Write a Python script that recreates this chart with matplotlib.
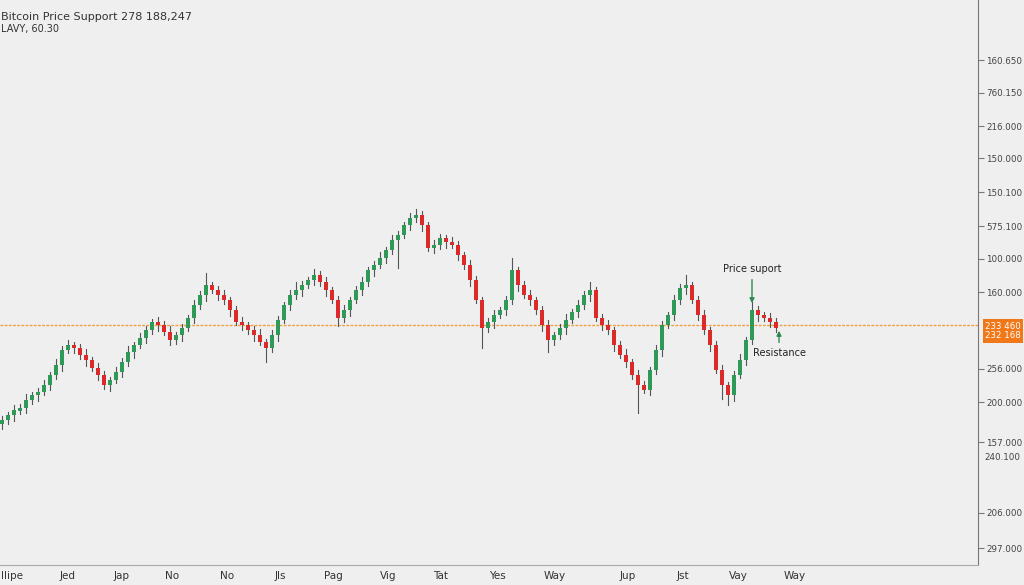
import matplotlib
matplotlib.use("Agg")
import matplotlib.pyplot as plt

# closes in screen-level units (bigger = lower on the chart)
closes = [420,415,410,408,400,395,392,385,375,365,
          350,345,348,355,360,368,375,385,380,372,
          362,352,345,338,330,322,325,332,340,335,
          328,318,305,295,285,290,295,300,310,322,
          325,330,335,342,348,335,320,305,295,290,
          285,280,275,282,290,300,318,310,300,290,
          282,270,265,258,250,240,235,225,218,215,
          225,248,245,238,242,245,255,265,280,300,
          328,322,315,310,300,270,285,295,300,310,
          325,340,335,328,320,312,305,295,290,318,
          325,330,345,355,362,375,385,390,370,350,
          325,315,300,288,285,300,315,330,345,370,
          385,395,375,360,340,310,315,318,322,328]
wick_up = [4,3,5,4,6,3,4,5,3,6, 4,5,3,4,6,3,5,4,3,5,
           4,6,3,5,4,3,5,4,6,3, 4,3,5,4,12,3,4,5,3,4,
           5,3,4,6,3,5,4,3,5,8, 4,3,6,4,5,3,4,5,3,4,
           5,3,4,6,3,5,4,3,5,6, 4,3,5,4,3,5,4,3,5,4,
           3,4,5,3,4,12,3,4,5,3, 4,5,3,4,6,3,5,4,8,3,
           4,5,3,4,6,3,5,4,3,5, 4,3,5,4,10,3,4,5,3,4,
           5,3,4,6,3,8,4,3,5,4]
wick_dn = [5,4,6,3,5,4,6,3,5,4, 6,3,5,4,6,3,5,4,6,3,
           5,4,6,3,5,4,6,3,5,4, 6,3,5,4,6,3,5,4,6,3,
           5,4,6,3,14,4,6,3,5,4, 6,3,5,4,6,3,8,4,6,3,
           5,4,6,3,5,4,28,3,5,4, 6,3,5,4,6,3,5,4,6,3,
           20,4,6,3,5,4,6,3,5,4, 6,12,5,4,6,3,5,4,6,3,
           5,4,6,3,5,4,28,3,5,4, 6,3,5,4,6,3,5,4,6,3,
           14,10,6,3,5,4,6,3,5,4]

xtick_px = [12,68,122,172,227,280,333,388,441,497,555,628,683,738,795]
xtick_lab = ["llipe","Jed","Jap","No","No","Jls","Pag","Vig","Tat","Yes","Way","Jup","Jst","Vay","Way"]
ytick_px = [60,93,126,158,192,226,259,292,369,402,442,513,548]
ytick_lab = ["160.650","760.150","216.000","150.000","150.100","575.100","100.000",
             "160.000","256.000","200.000","157.000","206.000","297.000"]
level = 325

bg = "#efefef"
fig = plt.figure(figsize=(10.24, 5.85), dpi=100, facecolor=bg)
ax = fig.add_axes([0, 20/585, 978/1024, 565/585], facecolor=bg)

for i, c in enumerate(closes):
    o = closes[i-1] if i > 0 else c + 4
    if abs(o - c) < 3:
        o = c + 3 if i % 2 else c - 3
    col = "#2f9a58" if c < o else "#dc2a2a"
    top, bot = min(o, c), max(o, c)
    ax.plot([i, i], [top - wick_up[i], bot + wick_dn[i]], color="#555555", lw=0.8, zorder=2)
    ax.bar(i, bot - top, bottom=top, width=0.62, color=col, zorder=3)

ax.set_xlim((0 - 2) / 6, (978 - 2) / 6)
ax.set_ylim(565, 0)
ax.axhline(level, color="#f0a040", lw=1, ls=(0, (2, 1)), zorder=1)

ax.set_xticks([(p - 2) / 6 for p in xtick_px])
ax.set_xticklabels(xtick_lab, fontsize=7.5, color="#333333")
ax.tick_params(axis="x", length=0, pad=4)
ax.yaxis.tick_right()
ax.set_yticks(ytick_px)
ax.set_yticklabels(ytick_lab, fontsize=6.3, color="#444444")
ax.tick_params(axis="y", length=4, color="#777777", pad=2)
for s in ["left", "top"]:
    ax.spines[s].set_visible(False)
ax.spines["right"].set_color("#777777")
ax.spines["bottom"].set_color("#aaaaaa")

ax.text(1.0065, 1 - (457 / 565), "240.100", transform=ax.transAxes, fontsize=6.3,
        color="#444444", va="center", ha="left")
ax.text(1.007, 1 - (331 / 565), "233 460\n232 168", transform=ax.transAxes, fontsize=6.2,
        color="white", va="center", ha="left", linespacing=1.1,
        bbox=dict(boxstyle="square,pad=0.25", fc="#f07818", ec="none"))

ax.annotate("Price suport", xy=(125, 306), xytext=(125, 272), fontsize=7, ha="center",
            color="#222222", arrowprops=dict(arrowstyle="-|>", color="#2f8a50", lw=1, shrinkA=2))
ax.annotate("Resistance", xy=(129.5, 328), xytext=(129.5, 353), fontsize=7, ha="center",
            va="center", color="#222222", arrowprops=dict(arrowstyle="-|>", color="#2f8a50", lw=1, shrinkA=2))

fig.text(0.001, 0.966, "Bitcoin Price Support 278 188,247", fontsize=8, color="#333333")
fig.text(0.001, 0.945, "LAVY, 60.30", fontsize=7, color="#333333")

fig.savefig("out.png", dpi=100, facecolor=bg)
